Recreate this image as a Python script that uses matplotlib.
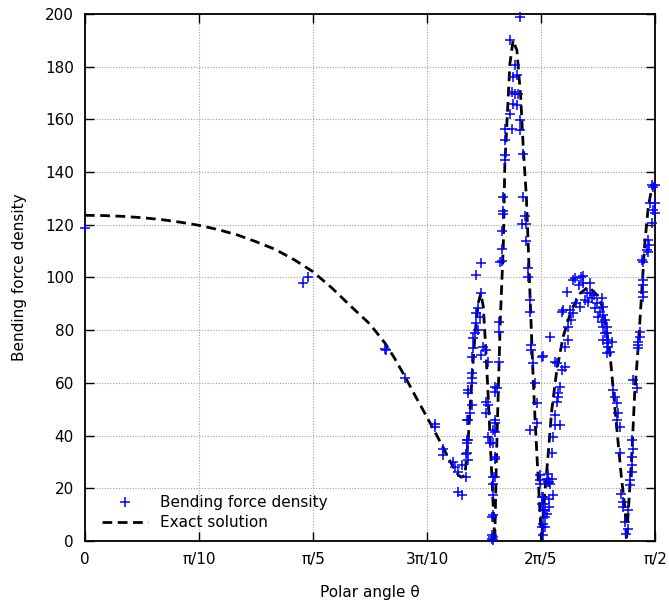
import numpy as np
import matplotlib
matplotlib.use("Agg")
import matplotlib.pyplot as plt

# exact solution, polar angle in degrees
exact_deg = [0, 3, 6, 9, 12, 15, 18, 21, 24, 27, 30, 33, 36, 39, 41.8, 45, 47.4, 48.9, 50.5,
             52.1, 54, 55.5, 56.6, 57.6, 58.4, 59.0, 59.4, 60.0,
             60.5, 61.05, 61.6, 62.1, 62.5, 62.9, 63.3, 63.7, 64.05, 64.3, 64.7, 65.0, 65.3,
             65.6, 66.05, 66.3, 66.7, 67.1, 67.6, 68.2, 68.8, 69.2, 69.7, 70.0, 70.3, 70.7,
             71.05, 71.6, 72.1, 72.6, 73.15, 73.7, 74.5, 75.5, 76.8, 78.2, 79.5, 80.8, 81.6,
             82.1, 82.9, 83.7, 84.2, 84.7, 85.3, 85.5, 85.8, 86.3, 86.8, 87.4, 87.9, 88.4,
             88.95, 89.5, 90]
exact_val = [123.6, 123.5, 123.2, 122.7, 122.0, 121.0, 119.8, 118.2, 116.2, 113.6, 110.7,
             106.8, 102.2, 96.0, 89.5, 82.3, 75.0, 69.3, 62.5, 55.3, 47.0, 40.3, 35.3, 30.5,
             27.0, 24.9, 24.2, 24.9,
             38.2, 59.9, 78.9, 90.3, 94.0, 88.9, 72.4, 53.4, 34.4,
             21.9, 0.0, 34.4, 59.9, 85.1, 111.5, 143.2, 162.2, 181.2, 190.0, 186.2, 168.5,
             149.5, 130.5, 111.5, 91.4, 66.1, 47.1, 21.7, 0.0, 18.0, 33.1, 49.6, 64.8, 77.5,
             87.6, 94.0, 96.5, 93.5, 89.5, 84.0, 71.0, 50.0, 37.0, 24.3, 11.6, 0.0, 11.6, 30.6,
             56.0, 75.0, 94.0, 113.0, 126.9, 133.9, 135.2]

# computed bending force density at the mesh points
pts_deg = [0, 34.4, 35.2, 47.4, 47.6, 50.5, 55.3, 55.3, 56.6, 56.6, 58.15, 58.4, 58.9, 59.5,
           60.2, 58.9, 59.5, 60.2, 60.3, 60.4, 60.5,
           62.6, 61.8, 62.5, 62.1, 61.8, 62.4, 61.7, 62.1, 61.6, 61.3, 61.2, 61.05, 62.6, 62.9,
           63.4, 61.05, 61.05, 61.05, 60.5, 61.05, 60.8, 60.5, 63.4, 63.7, 63.4, 63.7, 63.9,
           60.5, 60.3, 60.3, 60.5, 65.3, 65.4, 63.7, 65.3, 65.0, 64.7, 64.5, 64.5, 64.7, 64.5,
           64.5, 64.2, 64.2, 64.2, 65.5,
           68.7, 67.1, 67.9, 68.2, 67.6, 67.4, 67.9, 68.4, 67.6, 68.2, 67.1, 68.7, 66.3, 67.4,
           68.7, 66.3, 69.2, 66.3, 66.3, 66.05, 66.05, 66.05, 69.2, 69.5, 68.95, 69.7, 69.7,
           65.8, 65.8, 65.8,
           70.0, 70.0, 70.3, 70.3, 70.5, 70.5, 72.25, 70.8, 64.7, 64.7, 71.05, 71.3, 71.3, 70.3,
           64.7, 64.7, 64.7, 64.7, 64.5, 64.5, 64.5, 64.5, 71.8, 71.8, 71.8, 72.1, 72.1, 72.4,
           72.6, 72.1, 73.3, 73.3, 73.3,
           77.4, 78.4, 78.7, 78.05, 76.05, 79.7, 79.2, 79.7, 80.3, 78.9, 79.5, 80.0, 80.8, 80.5,
           81.3, 81.05, 81.6, 81.8, 82.4, 81.8, 82.6, 82.4, 75.5, 75.3, 77.6, 78.2, 76.6, 77.1,
           76.8, 76.3, 73.4, 76.3, 75.8, 72.1, 74.2, 74.5, 75.8, 75.3, 75.0, 74.7, 74.7, 74.5,
           74.2, 75.0, 74.2, 73.9, 73.7, 73.15, 72.9, 73.7, 73.15, 73.4, 73.9, 72.4, 72.4, 72.6,
           72.9, 72.4, 72.6, 72.25, 77.1, 78.6,
           89.7, 89.5, 90, 89.2, 90, 89.7, 90, 89.5, 88.95, 89.1, 88.7, 88.95, 87.9, 88.15,
           88.15, 88.15, 88.15, 88.15, 87.6, 87.6, 87.4, 87.4, 87.4, 86.6, 87.1, 86.3, 86.6,
           86.3, 86.3, 86.3, 86.05, 86.05, 85.8, 85.8, 81.6, 81.8, 81.8, 82.1, 82.4, 82.1,
           82.6, 83.2, 82.4, 82.9, 83.4, 83.7, 83.95, 84.2, 84.5, 83.95, 84.5, 84.7, 85.0, 85.0,
           85.3, 85.5]
pts_val = [118.8, 98.0, 100.0, 73.0, 72.3, 62.0, 44.5, 43.3, 35.0, 32.5, 30.0, 28.0, 26.2, 28.7,
           24.3, 18.6, 17.3, 33.0, 38.2, 45.8, 57.2,
           105.6, 101.0, 94.0, 88.3, 86.4, 85.1, 82.6, 80.0, 78.8, 76.9, 73.1, 69.9, 70.5, 73.7,
           72.4, 63.6, 61.7, 59.8, 56.0, 51.5, 48.4, 45.8, 52.8, 51.5, 48.4, 39.5, 37.0,
           38.2, 37.0, 33.3, 30.6, 83.2, 79.4, 68.0, 68.0, 57.9, 45.8, 42.0, 37.0, 31.9, 24.3,
           21.7, 9.0, 2.1, 0.8, 106.0,
           198.9, 190.0, 180.5, 176.7, 176.1, 170.4, 169.8, 169.8, 166.0, 165.3, 162.2, 159.6,
           156.5, 156.5, 155.8, 152.0, 147.0, 146.3, 144.4, 130.5, 125.4, 124.1, 130.5, 123.5,
           120.3, 120.3, 114.0, 117.8, 110.8, 106.4,
           103.5, 100.3, 91.4, 87.0, 74.3, 72.4, 70.2, 67.4, 58.5, 56.6, 59.8, 52.2, 44.6, 42.0,
           44.6, 41.4, 31.3, 24.3, 17.3, 9.7, 1.6, 0.5, 24.9, 23.0, 21.7, 16.7, 14.1, 11.6,
           9.0, 5.2, 22.4, 16.0, 12.8,
           99.7, 100.3, 97.8, 97.1, 94.6, 97.8, 94.0, 94.0, 93.3, 91.4, 90.8, 92.1, 90.2, 88.3,
           87.0, 85.1, 83.2, 81.3, 78.8, 76.2, 73.7, 71.2, 87.6, 87.0, 90.2, 88.9, 87.6, 86.4,
           83.8, 81.3, 77.5, 76.2, 73.7, 69.9, 68.0, 67.4, 66.1, 64.8, 58.5, 56.0, 54.7, 52.8,
           47.7, 43.9, 43.9, 39.5, 33.2, 25.6, 23.7, 23.7, 22.4, 21.8, 17.3, 16.7, 14.1, 11.6,
           10.3, 6.5, 5.2, 2.1, 99.0, 100.6,
           134.5, 135.0, 135.0, 128.2, 128.2, 125.7, 124.4, 120.6, 114.3, 112.4, 110.5, 109.8,
           106.7, 106.0, 99.0, 97.1, 94.6, 92.7, 79.4, 77.5, 75.6, 74.3, 73.1, 61.0, 57.9, 38.2,
           35.0, 31.9, 28.7, 26.2, 23.0, 21.1, 11.6, 4.6, 92.1, 88.9, 85.7, 83.8, 81.3, 78.8,
           76.2, 75.6, 75.0, 71.8, 57.2, 54.7, 52.2, 48.4, 43.3, 45.8, 33.2, 17.9, 14.8, 12.9,
           7.2, 2.8]

tick_labels = ["0", "π/10", "π/5", "3π/10", "2π/5", "π/2"]

plt.rcParams["font.family"] = ["DejaVu Sans"]
plt.rcParams["font.size"] = 11

fig = plt.figure(figsize=(6.69, 6.06), dpi=100)
ax = fig.add_axes([0.127, 0.1073, 0.852, 0.8696])

ax.plot(np.deg2rad(pts_deg), pts_val, "+", color="#0000ff", markersize=7,
        markeredgewidth=1.1, clip_on=False, label="Bending force density", zorder=3)
ax.plot(np.deg2rad(exact_deg), exact_val, color="black", linewidth=2.0,
        dashes=(3.5, 2.0), label="Exact solution", zorder=2)

ax.set_xlim(0, np.pi / 2)
ax.set_ylim(0, 200)
ax.set_xticks(np.arange(6) * np.pi / 10)
ax.set_xticklabels(tick_labels)
ax.set_yticks(np.arange(0, 201, 20))

ax.grid(True, color="#a0a0a0", linestyle=(0, (1, 1.5)), linewidth=0.8)
ax.tick_params(direction="in", length=6.5, width=1.0, top=True, right=True, pad=8)
for s in ax.spines.values():
    s.set_linewidth(1.3)

ax.set_xlabel("Polar angle θ", labelpad=13)
ax.set_ylabel("Bending force density", labelpad=13)

ax.legend(loc="lower left", frameon=False, handlelength=3.0, handletextpad=0.75,
          borderaxespad=0.3, labelspacing=0.35, bbox_to_anchor=(0.012, 0.0))

fig.savefig("out.png", dpi=100)
